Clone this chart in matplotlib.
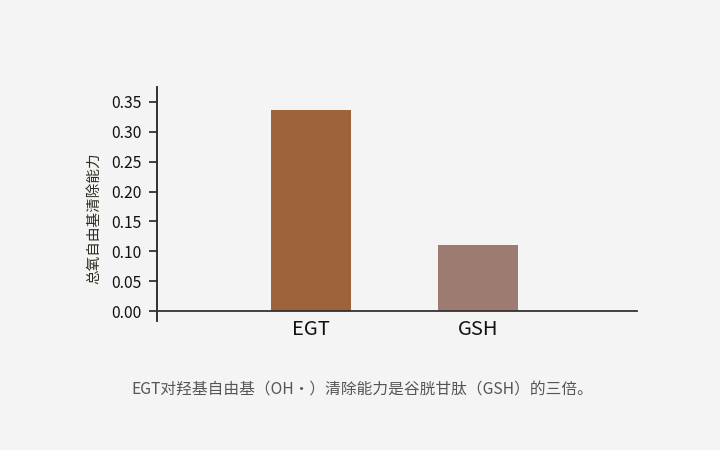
import matplotlib
matplotlib.use("Agg")
import matplotlib.pyplot as plt

categories = ["EGT", "GSH"]
values = [0.3366, 0.1105]
bar_colors = ["#9D643C", "#9E7B70"]
yticks = [0.00, 0.05, 0.10, 0.15, 0.20, 0.25, 0.30, 0.35]
ylabel = "总氧自由基清除能力"
caption = "EGT对羟基自由基（OH·）清除能力是谷胱甘肽（GSH）的三倍。"

plt.rcParams['font.family'] = ['Noto Sans CJK SC', 'DejaVu Sans']

fig = plt.figure(figsize=(7.2, 4.5), dpi=100)
fig.patch.set_facecolor("#F4F4F4")
ax = fig.add_axes([0.218, 0.2867, 0.667, 0.52])
ax.set_facecolor("#F4F4F4")

for s in ["top", "right"]:
    ax.spines[s].set_visible(False)
ax.spines["bottom"].set_position(("data", 0))
ax.spines["bottom"].set_color("#333333")
ax.spines["bottom"].set_linewidth(1.3)
ax.spines["left"].set_color("#222222")
ax.spines["left"].set_linewidth(1.3)

x = list(range(len(categories)))
ax.bar(x, values, width=0.48, color=bar_colors)
ax.set_xlim(-0.922, 1.952)
ax.set_ylim(-0.0167, 0.375)
ax.set_yticks(yticks)
ax.set_yticklabels([f"{v:.2f}" for v in yticks], fontsize=11.3, color="#111111")
ax.set_xticks(x)
ax.set_xticklabels(categories, fontsize=14.5, color="#111111")
ax.tick_params(axis='x', length=0, pad=5.5)
ax.tick_params(axis='y', length=6, width=1.2, color="#222222", pad=5)

ax.set_ylabel(ylabel, fontsize=10.5, color="#2b2b1f")
ax.yaxis.set_label_coords(-0.117, 0.44)

fig.text(0.503, 0.133, caption, ha="center", va="center", fontsize=11.3, color="#555555")

fig.savefig("out.png", dpi=100, facecolor=fig.get_facecolor())
